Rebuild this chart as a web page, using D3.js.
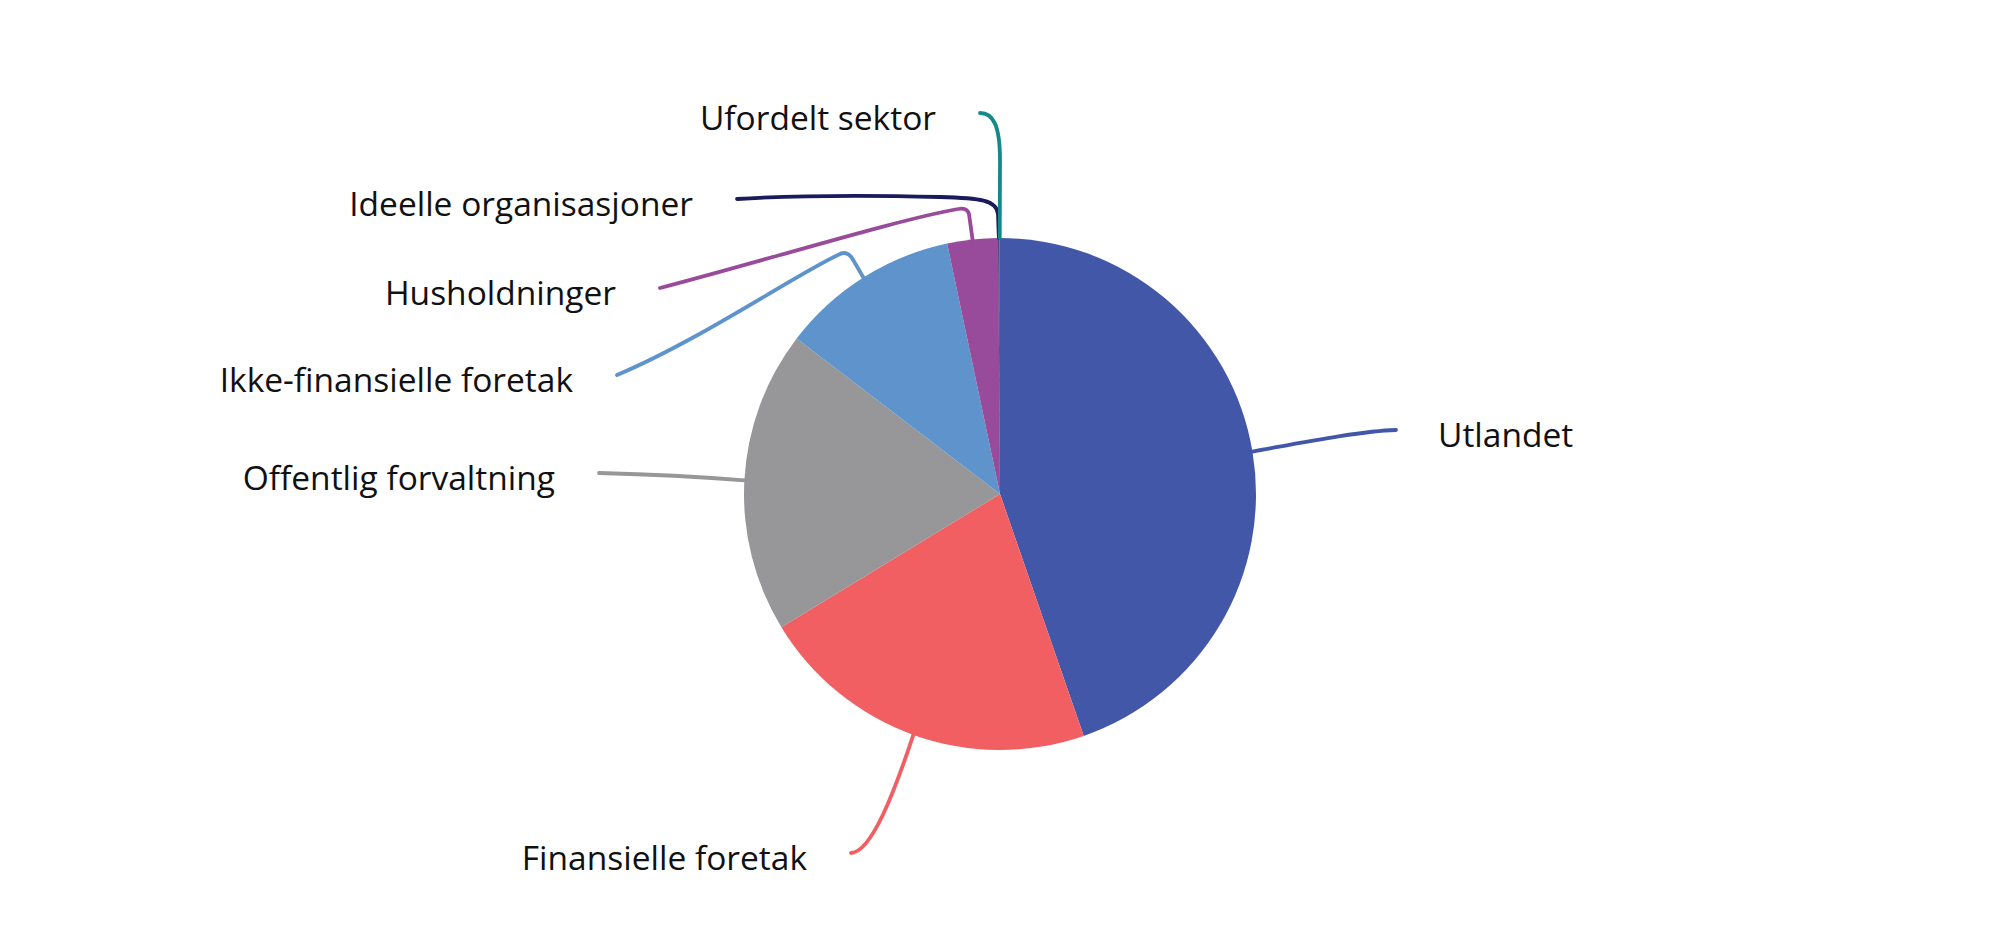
<!DOCTYPE html>
<html>
<head>
<meta charset="utf-8">
<script src="https://cdn.jsdelivr.net/npm/d3@7"></script>
<style>
  html, body { margin: 0; padding: 0; background: #fff; }
  svg { display: block; }
  text { font-family: "Open Sans", sans-serif; fill: #111; }
</style>
</head>
<body>
<svg id="chart" width="2000" height="946"></svg>
<script>
// ---- data (shares, per cent) ----
const categories = ["Utlandet", "Finansielle foretak", "Offentlig forvaltning",
  "Ikke-finansielle foretak", "Husholdninger", "Ideelle organisasjoner", "Ufordelt sektor"];
const values = [44.7, 21.6, 19.1, 11.3, 3.2, 0.08, 0.03];
const colors = ["#4257a7", "#f25f62", "#979698", "#5e93cc", "#984b9a", "#1a1a5c", "#138a8a"];

// ---- label layout: leader segments after the slice edge, and text side ----
const leaderSegments = [
  [["C", 1300, 443, 1360, 431, 1396, 430]],
  [["C", 895, 790, 872, 852, 851, 853]],
  [["C", 690, 476, 640, 474, 599, 473]],
  [["L", 852, 258], ["Q", 846, 250, 838, 255], ["C", 795, 275, 700, 340, 617, 375]],
  [["L", 969, 214], ["Q", 967, 207, 958, 209], ["C", 900, 219, 760, 262, 660, 288]],
  [["L", 998, 214], ["C", 997, 200, 980, 198, 940, 197], ["C", 900, 196, 820, 194, 737, 199]],
  [["L", 1000, 160], ["C", 1000, 125, 993, 113, 980, 113]]
];
const labelSide = ["right", "left", "left", "left", "left", "left", "left"];

// ---- drawing ----
const svg = d3.select("#chart");
const cx = 1000, cy = 494, radius = 256;
const g = svg.append("g").attr("transform", `translate(${cx},${cy})`);

const rows = categories.map((c, i) => ({ name: c, value: values[i], color: colors[i], i }));
const pie = d3.pie().sort(null).value(d => d.value).startAngle(0).endAngle(2 * Math.PI);
const arcs = pie(rows);
const arc = d3.arc().innerRadius(0).outerRadius(radius);
const edge = d3.arc().innerRadius(radius).outerRadius(radius);

g.selectAll("path.slice").data(arcs).join("path")
  .attr("class", "slice")
  .attr("d", arc)
  .attr("fill", d => d.data.color);

arcs.forEach(a => {
  const [sx, sy] = edge.centroid(a);
  const p = d3.path();
  p.moveTo(cx + sx, cy + sy);
  let end = [cx + sx, cy + sy];
  leaderSegments[a.data.i].forEach(s => {
    if (s[0] === "L") p.lineTo(s[1], s[2]);
    else if (s[0] === "Q") p.quadraticCurveTo(s[1], s[2], s[3], s[4]);
    else p.bezierCurveTo(s[1], s[2], s[3], s[4], s[5], s[6]);
    end = [s[s.length - 2], s[s.length - 1]];
  });
  svg.append("path")
    .attr("d", p.toString())
    .attr("fill", "none")
    .attr("stroke", a.data.color)
    .attr("stroke-width", 3.8)
    .attr("stroke-linecap", "round")
    .attr("stroke-linejoin", "round");
  const right = labelSide[a.data.i] === "right";
  svg.append("text")
    .attr("x", right ? end[0] + 42 : end[0] - 44)
    .attr("y", end[1] + 5)
    .attr("dy", "0.357em")
    .attr("text-anchor", right ? "start" : "end")
    .attr("font-size", 33.5)
    .text(a.data.name);
});
</script>
</body>
</html>
